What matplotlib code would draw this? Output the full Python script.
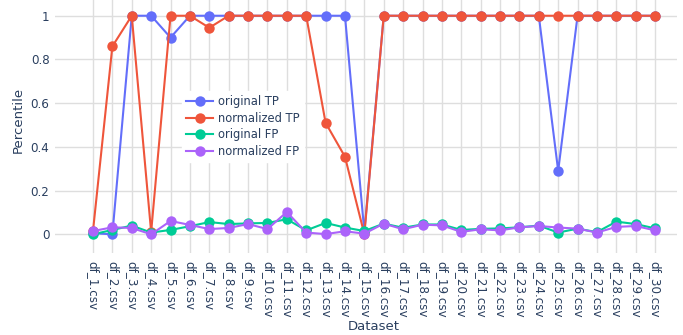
import matplotlib
matplotlib.use("Agg")
import matplotlib.pyplot as plt
from matplotlib.ticker import FuncFormatter

categories = [f"df_{i}.csv" for i in range(1, 31)]

original_tp = [0.005, 0.0, 1, 1, 0.9, 1, 1, 1, 1, 1, 1, 1, 1, 1, 0.01,
               1, 1, 1, 1, 1, 1, 1, 1, 1, 0.29, 1, 1, 1, 1, 1]
normalized_tp = [0.015, 0.86, 1, 0.01, 1, 1, 0.945, 1, 1, 1, 1, 1, 0.51, 0.355, 0.0,
                 1, 1, 1, 1, 1, 1, 1, 1, 1, 1, 1, 1, 1, 1, 1]
original_fp = [0.0, 0.02, 0.04, 0.008, 0.02, 0.037, 0.056, 0.047, 0.05, 0.052,
               0.069, 0.018, 0.052, 0.031, 0.015, 0.049, 0.03, 0.045, 0.045, 0.02,
               0.025, 0.027, 0.032, 0.04, 0.008, 0.026, 0.01, 0.058, 0.047, 0.027]
normalized_fp = [0.015, 0.032, 0.029, 0.0, 0.061, 0.043, 0.024, 0.029, 0.047, 0.024,
                 0.102, 0.008, 0.001, 0.014, 0.003, 0.049, 0.023, 0.044, 0.041, 0.011,
                 0.023, 0.018, 0.032, 0.038, 0.031, 0.026, 0.008, 0.034, 0.038, 0.018]

series = [
    ("original TP", original_tp, "#636EFA"),
    ("normalized TP", normalized_tp, "#EF553B"),
    ("original FP", original_fp, "#00CC96"),
    ("normalized FP", normalized_fp, "#AB63FA"),
]

text_color = "#2a3f5f"
fig = plt.figure(figsize=(6.83, 3.35), dpi=100)
ax = fig.add_axes([55 / 683, 82 / 335, 622 / 683, 253 / 335])

x = list(range(len(categories)))
for name, vals, col in series:
    ax.plot(x, vals, color=col, lw=1.5, marker="o", markersize=7.5,
            markeredgewidth=0, label=name, zorder=3)

ax.set_xlim(-1.96, 30.13)
ax.set_ylim(-0.0855, 1.072)
ax.set_xticks(x)
ax.set_xticklabels(categories, rotation=-90, fontsize=8.6, color=text_color)
ax.set_yticks([0, 0.2, 0.4, 0.6, 0.8, 1.0])
ax.yaxis.set_major_formatter(FuncFormatter(lambda v, p: f"{v:g}"))
ax.tick_params(axis="y", labelsize=8.6, labelcolor=text_color, length=0, pad=4)
ax.tick_params(axis="x", length=0, pad=6)
ax.grid(True, color="#dedede", lw=1.0, zorder=0)
for s in ax.spines.values():
    s.set_visible(False)

fig.text(374 / 683, 1 - 326 / 335, "Dataset", ha="center", va="center",
         fontsize=9.5, color=text_color)
fig.text(18 / 683, 1 - 120 / 335, "Percentile", ha="center", va="center",
         rotation=90, fontsize=9.5, color=text_color)

leg = ax.legend(loc="upper left", bbox_to_anchor=(176 / 683, 1 - 85 / 335),
                bbox_transform=fig.transFigure, frameon=True, fontsize=8.3,
                handlelength=2.3, handletextpad=0.45, labelspacing=0.3,
                borderpad=0.4, fancybox=False)
leg.get_frame().set_edgecolor("white")
leg.get_frame().set_facecolor("white")
leg.get_frame().set_alpha(1)
for t in leg.get_texts():
    t.set_color(text_color)

fig.savefig("out.png", dpi=100)
